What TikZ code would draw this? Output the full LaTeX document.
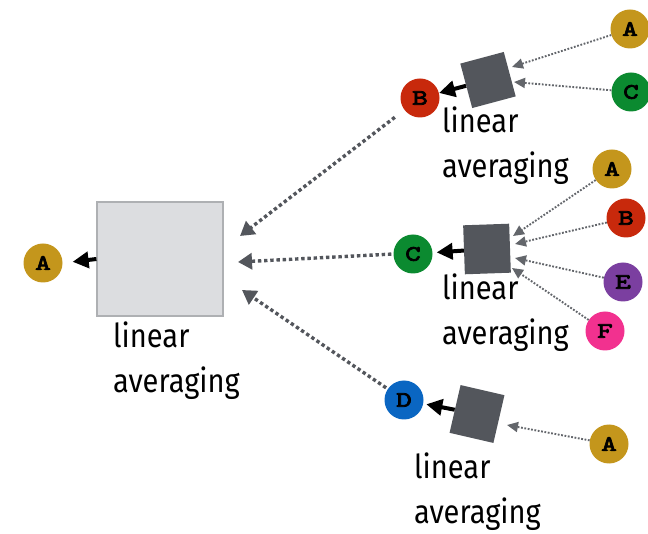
\documentclass[tikz,border=0pt]{standalone}
\usepackage{fontspec}
\setmainfont{Fira Sans}[FakeStretch=0.88]
\newfontfamily\tokenfont{lmmono10-regular.otf}[FakeBold=3.5,FakeStretch=1.35]
\usetikzlibrary{arrows.meta}

\definecolor{cgold}{HTML}{C4961C}
\definecolor{cred}{HTML}{C8290C}
\definecolor{cgreen}{HTML}{0B8A30}
\definecolor{cblue}{HTML}{0A66C2}
\definecolor{cpurple}{HTML}{7B3FA0}
\definecolor{cpink}{HTML}{F2318F}
\definecolor{boxdark}{HTML}{53565C}
\definecolor{boxlight}{HTML}{DCDDE0}
\definecolor{boxedge}{HTML}{AEB0B3}
\definecolor{linkgray}{HTML}{53565C}
\definecolor{thingray}{HTML}{63666B}

\begin{document}
\begin{tikzpicture}[x=1pt,y=-1pt,
  token/.style={circle, minimum size=39pt, inner sep=0pt,
    font=\tokenfont\fontsize{22}{22}\selectfont},
  avgbox/.style={rectangle, fill=boxdark, inner sep=0pt},
  bigbox/.style={rectangle, fill=boxlight, draw=boxedge, line width=1.2pt,
    minimum width=126pt, minimum height=114pt, inner sep=0pt},
  lbl/.style={inner sep=0pt, anchor=base west, font=\fontsize{33}{33}\selectfont},
  thickdot/.style={line width=3.4pt, dash pattern=on 3.4pt off 2.8pt, color=linkgray,
    -{Triangle[length=14pt,width=16pt]}},
  thindot/.style={line width=1.9pt, dash pattern=on 1.8pt off 1.6pt, color=thingray,
    -{Triangle[length=11pt,width=10pt]}},
  outarrow/.style={line width=4pt, black, -{Triangle[length=16pt,width=16pt]}}
]
\useasboundingbox (0,0) rectangle (648,534);

% final combination
\node[bigbox] (big) at (160,259) {};
\node[token, fill=cgold] (A0) at (43,263) {A};
\node[lbl] (bigL1) at (113,348) {linear};
\node[lbl] (bigL2) at (113,393) {averaging};

% intermediate tokens
\node[token, fill=cred] (B) at (420,98) {B};
\node[token, fill=cgreen] (C) at (413,254) {C};
\node[token, fill=cblue] (D) at (404,400) {D};

% averaging units
\node[avgbox, minimum width=45pt, minimum height=46pt, rotate=15] (sqB) at (488,80) {};
\node[avgbox, minimum width=46pt, minimum height=49pt, rotate=2] (sqC) at (487,249) {};
\node[avgbox, minimum width=45pt, minimum height=49pt, rotate=-13] (sqD) at (477,414) {};

\node[lbl] (bL1) at (442,133) {linear};
\node[lbl] (bL2) at (442,178) {averaging};
\node[lbl] (cL1) at (442,300) {linear};
\node[lbl] (cL2) at (442,345) {averaging};
\node[lbl] (dL1) at (414,478) {linear};
\node[lbl] (dL2) at (414,523) {averaging};

% input tokens
\node[token, fill=cgold]   (bA) at (630,29) {A};
\node[token, fill=cgreen]  (bC) at (631,92) {C};
\node[token, fill=cgold]   (cA) at (612,169) {A};
\node[token, fill=cred]    (cB) at (626,218) {B};
\node[token, fill=cpurple] (cE) at (623,282) {E};
\node[token, fill=cpink]   (cF) at (605,331) {F};
\node[token, fill=cgold]   (dA) at (609,444) {A};

% arrow targets
\coordinate (inB) at (240,236);
\coordinate (inC) at (238,262);
\coordinate (inD) at (242,290);
\coordinate (tBA) at (512,67);
\coordinate (tBC) at (514,82);
\coordinate (tCA) at (513,236);
\coordinate (tCB) at (515,244);
\coordinate (tCE) at (515,258);
\coordinate (tCF) at (512,268);
\coordinate (tDA) at (507,425);

% links into the final unit
\draw[thickdot, shorten <=12pt] (B) -- (inB);
\draw[thickdot, shorten <=2pt] (C.west) -- (inC);
\draw[thickdot, shorten <=2pt] (D) -- (inD);
\draw[outarrow, shorten >=10pt] (big.west) -- (A0.east);

% links into the averaging units
\draw[thindot] (bA) -- (tBA);
\draw[thindot] (bC) -- (tBC);
\draw[thindot] (cA) -- (tCA);
\draw[thindot] (cB) -- (tCB);
\draw[thindot] (cE) -- (tCE);
\draw[thindot] (cF) -- (tCF);
\draw[thindot] (dA) -- (tDA);

% outputs of the averaging units
\draw[outarrow] (sqB) -- (B);
\draw[outarrow, shorten >=4pt] (sqC) -- (C);
\draw[outarrow, shorten >=3pt] (sqD) -- (D);
\end{tikzpicture}
\end{document}
